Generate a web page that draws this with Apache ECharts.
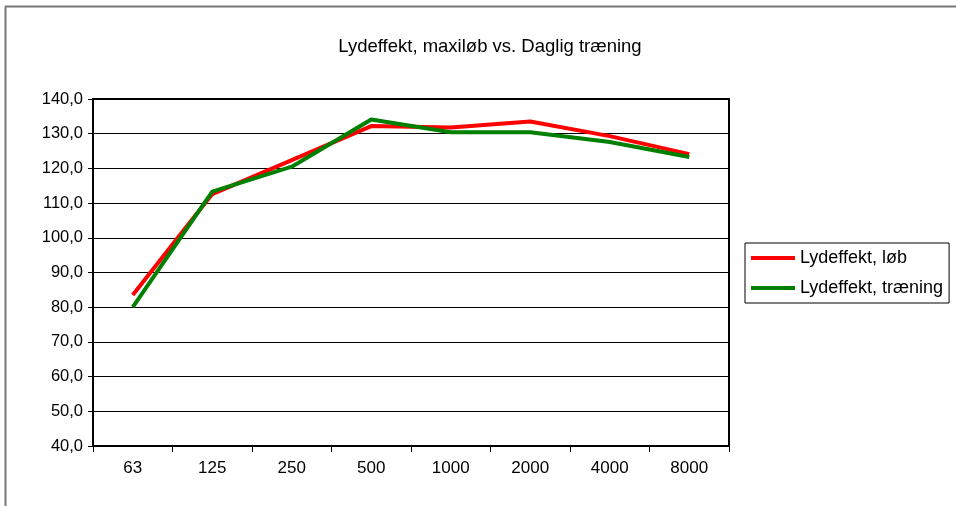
<!DOCTYPE html>
<html><head><meta charset="utf-8">
<script src="https://cdn.jsdelivr.net/npm/echarts@6/dist/echarts.min.js"></script>
<style>html,body{margin:0;padding:0;background:#fff}#c{width:956px;height:506px}</style>
</head><body><div id="c"></div>
<script>
var categories = ['63','125','250','500','1000','2000','4000','8000'];
var lobValues = [83.5, 112.6, 122.4, 132.2, 131.8, 133.5, 129.3, 124.1];
var traeningValues = [80.0, 113.3, 120.5, 134.1, 130.4, 130.4, 127.6, 123.3];
var seriesNames = ['Lydeffekt, løb', 'Lydeffekt, træning'];
var titleText = 'Lydeffekt, maxiløb vs. Daglig træning';

var font = 'Liberation Sans, Arial, sans-serif';
var chart = echarts.init(document.getElementById('c'));
chart.setOption({
  animation: false,
  backgroundColor: '#fff',
  title: { text: titleText, left: 485, textAlign: 'center', top: 32,
    textStyle: { fontFamily: font, fontSize: 18.5, fontWeight: 'normal', color: '#000' } },
  graphic: [
    { type: 'line', shape: { x1: 5.5, y1: 6.5, x2: 5.5, y2: 506 }, style: { stroke: '#777', lineWidth: 2 } },
    { type: 'line', shape: { x1: 5, y1: 6.5, x2: 956, y2: 6.5 }, style: { stroke: '#777', lineWidth: 2 } }
  ],
  legend: {
    orient: 'vertical', left: 745, top: 243,
    padding: [6, 6, 6, 6], itemGap: 12, itemWidth: 44, itemHeight: 14,
    borderColor: '#000', borderWidth: 1,
    textStyle: { fontFamily: font, fontSize: 18, lineHeight: 18, color: '#000' },
    data: seriesNames.map(function(n){ return { name: n, icon: 'path://M0,0 L44,0 L44,4 L0,4 Z' }; })
  },
  grid: { left: 93, top: 99, right: 227, bottom: 60, show: true, borderColor: '#000', borderWidth: 2 },
  xAxis: {
    type: 'category', data: categories, boundaryGap: true,
    axisLine: { lineStyle: { color: '#000', width: 2 } },
    axisTick: { show: true, length: 6, lineStyle: { color: '#000' } },
    axisLabel: { fontFamily: font, fontSize: 17, color: '#000', margin: 14 }
  },
  yAxis: {
    type: 'value', min: 40, max: 140, interval: 10,
    axisLine: { show: true, lineStyle: { color: '#000', width: 2 } },
    axisTick: { show: true, length: 5, lineStyle: { color: '#000' } },
    axisLabel: { fontFamily: font, fontSize: 16.5, color: '#000', margin: 10,
      formatter: function(v){ return v.toFixed(1).replace('.', ','); } },
    splitLine: { lineStyle: { color: '#000', width: 1 } }
  },
  series: [
    { name: seriesNames[0], type: 'line', data: lobValues, symbol: 'none',
      lineStyle: { color: '#ff0000', width: 4 }, itemStyle: { color: '#ff0000' } },
    { name: seriesNames[1], type: 'line', data: traeningValues, symbol: 'none',
      lineStyle: { color: '#008000', width: 4 }, itemStyle: { color: '#008000' } }
  ]
});
</script></body></html>
